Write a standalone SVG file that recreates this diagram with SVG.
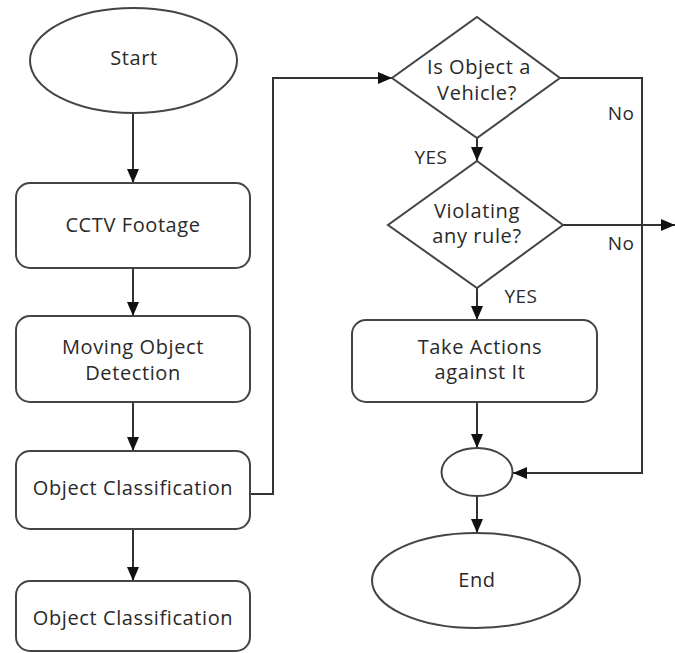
<svg xmlns="http://www.w3.org/2000/svg" width="675" height="653" viewBox="0 0 675 653">
<defs>
<style>
.shape{fill:#fff;stroke:#444;stroke-width:2}
.conn{fill:none;stroke:#333;stroke-width:2}
.t{font-family:"Open Sans","Noto Sans","Liberation Sans",sans-serif;font-size:20px;fill:#2a2a2a;text-anchor:middle;letter-spacing:0.6px}
.lbl{font-family:"Open Sans","Noto Sans","Liberation Sans",sans-serif;font-size:19px;fill:#2a2a2a;text-anchor:middle;letter-spacing:0.5px}
</style>
<marker id="ah" markerUnits="userSpaceOnUse" markerWidth="14" markerHeight="12" refX="14" refY="6" orient="auto">
<path d="M0,0 L14,6 L0,12 z" fill="#111"/>
</marker>
</defs>
<rect width="675" height="653" fill="#fff"/>
<g id="connectors">
<line class="conn" x1="133" y1="113" x2="133" y2="183" marker-end="url(#ah)"/>
<line class="conn" x1="133" y1="268" x2="133" y2="316" marker-end="url(#ah)"/>
<line class="conn" x1="133" y1="402" x2="133" y2="451" marker-end="url(#ah)"/>
<line class="conn" x1="133" y1="529" x2="133" y2="581" marker-end="url(#ah)"/>
<polyline class="conn" points="249,494 273,494 273,78 392,78" marker-end="url(#ah)"/>
<line class="conn" x1="477" y1="138" x2="477" y2="161" marker-end="url(#ah)"/>
<line class="conn" x1="477" y1="288" x2="477" y2="320" marker-end="url(#ah)"/>
<line class="conn" x1="477" y1="402" x2="477" y2="448" marker-end="url(#ah)"/>
<line class="conn" x1="477" y1="496" x2="477" y2="533" marker-end="url(#ah)"/>
<polyline class="conn" points="560,78 642,78 642,473 513,473" marker-end="url(#ah)"/>
<line class="conn" x1="563" y1="225" x2="675" y2="225" marker-end="url(#ah)"/>
<text class="lbl" x="431" y="164">YES</text>
<text class="lbl" x="621" y="120">No</text>
<text class="lbl" x="621" y="250">No</text>
<text class="lbl" x="521" y="303">YES</text>
</g>
<g id="start">
<ellipse class="shape" cx="133.5" cy="60.5" rx="103.5" ry="52.5"/>
<text class="t" x="134" y="65">Start</text>
</g>
<g id="cctv">
<rect class="shape" x="16" y="183" width="234" height="85" rx="14"/>
<text class="t" x="133" y="232">CCTV Footage</text>
</g>
<g id="moving">
<rect class="shape" x="16" y="316" width="234" height="86" rx="14"/>
<text class="t" x="133" y="354">Moving Object</text>
<text class="t" x="133" y="380">Detection</text>
</g>
<g id="classify1">
<rect class="shape" x="16" y="451" width="234" height="78" rx="14"/>
<text class="t" x="133" y="495">Object Classification</text>
</g>
<g id="classify2">
<rect class="shape" x="16" y="581" width="234" height="70" rx="14"/>
<text class="t" x="133" y="625">Object Classification</text>
</g>
<g id="vehicle">
<polygon class="shape" points="477,17 560,78 477,138 392,78"/>
<text class="t" x="479" y="74">Is Object a</text>
<text class="t" x="477" y="100">Vehicle?</text>
</g>
<g id="violating">
<polygon class="shape" points="477,161 563,225 477,288 388,225"/>
<text class="t" x="477" y="218">Violating</text>
<text class="t" x="477" y="243">any rule?</text>
</g>
<g id="action">
<rect class="shape" x="352" y="320" width="245" height="82" rx="14"/>
<text class="t" x="480" y="354">Take Actions</text>
<text class="t" x="480" y="379">against It</text>
</g>
<g id="merge">
<ellipse class="shape" cx="477" cy="472" rx="35.5" ry="24"/>
</g>
<g id="end">
<ellipse class="shape" cx="476" cy="580.5" rx="104" ry="47.5"/>
<text class="t" x="477" y="587">End</text>
</g>
</svg>
